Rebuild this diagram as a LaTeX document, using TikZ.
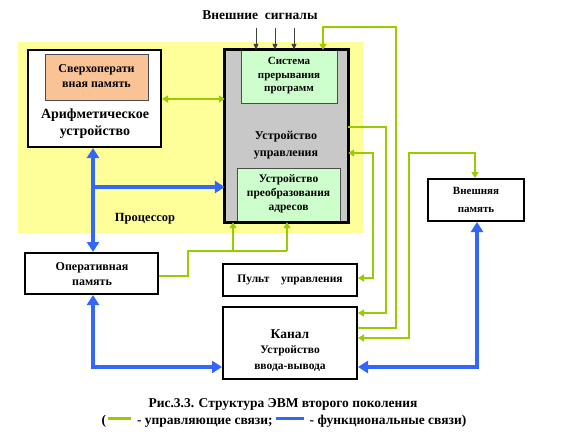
\documentclass[tikz,border=0pt]{standalone}
\usepackage{fontspec}
\setmainfont{Liberation Serif}
\usetikzlibrary{arrows.meta,calc}
\definecolor{ylw}{HTML}{FFFF99}
\definecolor{org}{HTML}{FAC395}
\definecolor{lgr}{HTML}{CCFFCC}
\definecolor{cug}{HTML}{C8C8C8}
\definecolor{gl}{HTML}{99CC00}
\definecolor{bl}{HTML}{3366FF}
\definecolor{sg}{HTML}{404040}
\newcommand{\fs}[2]{\fontsize{#1}{#2}\selectfont\bfseries}
\begin{document}
\begin{tikzpicture}[x=1pt,y=-1pt,
  box/.style={draw=black,line width=2pt,fill=white,inner sep=0pt},
  inbox/.style={draw=black!70,line width=0.8pt,inner sep=0pt},
  txt/.style={align=center,inner sep=0pt,text=black},
  gline/.style={draw=gl,line width=1.6pt},
  garrow/.style={gline,-{Triangle[width=7pt,length=6pt]}},
  gboth/.style={gline,{Triangle[width=7pt,length=6pt]}-{Triangle[width=7pt,length=6pt]}},
  bline/.style={draw=bl,line width=4pt},
  barrow/.style={bline,-{Triangle[width=12pt,length=10pt]}},
  bboth/.style={bline,{Triangle[width=12pt,length=10pt]}-{Triangle[width=12pt,length=10pt]}},
  sig/.style={draw=sg,line width=1pt,-{Triangle[width=5pt,length=6pt]}}
]
\useasboundingbox (0,0) rectangle (567,442);
% processor area
\node[fill=ylw,inner sep=0pt,minimum width=345pt,minimum height=191pt] (proc) at (190.5,137.5) {};
% arithmetic unit
\node[box,minimum width=133pt,minimum height=97pt] (au) at (94.5,98.5) {};
\node[inbox,fill=org,minimum width=103pt,minimum height=46pt] (sop) at (96.5,77) {};
\node[txt,font=\fs{12}{15}] (soptext) at (96.5,76) {Сверхоперати\\вная память};
\node[txt,font=\fs{14}{17}] (autext) at (95,123.5) {Арифметическое\\устройство};
% control unit
\node[fill=cug,inner sep=0pt,minimum width=123pt,minimum height=172pt] (cu) at (286.5,136) {};
\node[inbox,fill=lgr,minimum width=96pt,minimum height=53pt] (sys) at (289,76.5) {};
\node[inbox,fill=lgr,minimum width=103pt,minimum height=54pt] (pra) at (288.5,195) {};
\draw[line width=3pt] (cu.north west) rectangle (cu.south east);
\node[txt,font=\fs{11}{13.5}] (systext) at (289,76) {Система\\прерывания\\программ};
\node[txt,font=\fs{12}{17}] (cutext) at (286,145) {Устройство\\управления};
\node[txt,font=\fs{11.5}{14}] (pratext) at (288.5,193.5) {Устройство\\преобразования\\адресов};
\node[txt,font=\fs{12.5}{15}] (proctext) at (145,219) {Процессор};
% external signals
\node[txt,font=\fs{13.5}{16}] (sigtext) at (260,15) {Внешние\ \ сигналы};
\coordinate (s1) at (256,28);
\coordinate (s2) at (275,28);
\coordinate (s3) at (294,28);
\draw[sig] (s1) -- (cu.north -| s1);
\draw[sig] (s2) -- (cu.north -| s2);
\draw[sig] (s3) -- (cu.north -| s3);
% other boxes
\node[box,minimum width=133pt,minimum height=41pt] (oper) at (91.5,273.5) {};
\node[txt,font=\fs{12}{15}] (opertext) at (92,274.5) {Оперативная\\память};
\node[box,minimum width=134pt,minimum height=32pt] (pult) at (290,280) {};
\node[txt,font=\fs{11.5}{14}] (pulttext) at (290,280) {Пульт\ \ \ \ управления};
\node[box,minimum width=134pt,minimum height=72pt] (kanal) at (290,343) {};
\node[txt,font=\fs{13.5}{16}] (kanaltext) at (290,334) {Канал};
\node[txt,font=\fs{11.5}{16.5}] (iotext) at (290,358.5) {Устройство\\ввода-вывода};
\node[box,minimum width=96pt,minimum height=42pt] (vnp) at (476,200) {};
\node[txt,font=\fs{11}{18}] (vnptext) at (476,200) {Внешняя\\память};
% green (control) links
\draw[gboth] (au.east |- 0,99) -- (cu.west |- 0,99);
\coordinate (j1) at (233,251);
\coordinate (j2) at (287,251);
\draw[gline] (oper.east |- 0,276) -- (188,276) -- (188,251) -- (j2);
\draw[garrow] (j1) -- (cu.south -| j1);
\draw[garrow] (j2) -- (cu.south -| j2);
\draw[garrow] (kanal.east |- 0,328) -| (396,27) -| (cu.north -| 323,0);
\draw[garrow] (cu.east |- 0,127) -| (386,313) -- (kanal.east |- 0,313);
\draw[gboth] (cu.east |- 0,153) -| (373,278) -- (pult.east |- 0,278);
\draw[gboth] (vnp.north -| 475,0) |- (409,153) |- (kanal.east |- 0,338);
% blue (functional) links
\draw[bboth] (au.south -| 93,0) -- (oper.north -| 93,0);
\coordinate (bj) at (93,187);
\draw[barrow] (bj) -- (cu.west |- bj);
\draw[bboth] (oper.south -| 93,0) |- (kanal.west |- 0,367);
\draw[bboth] (kanal.east |- 0,367) -| (vnp.south -| 477,0);
% caption
\node[txt,font=\fs{13.5}{16}] (cap1) at (283,404) {Рис.3.3. Структура ЭВМ второго поколения};
\node[txt,font=\fs{13.5}{16}] (cap2) at (284,421) {(\,{\color{gl}\rule[0.3em]{23pt}{3pt}}\, - управляющие связи; {\color{bl}\rule[0.3em]{28pt}{3pt}}\, - функциональные связи)};
\end{tikzpicture}
\end{document}
